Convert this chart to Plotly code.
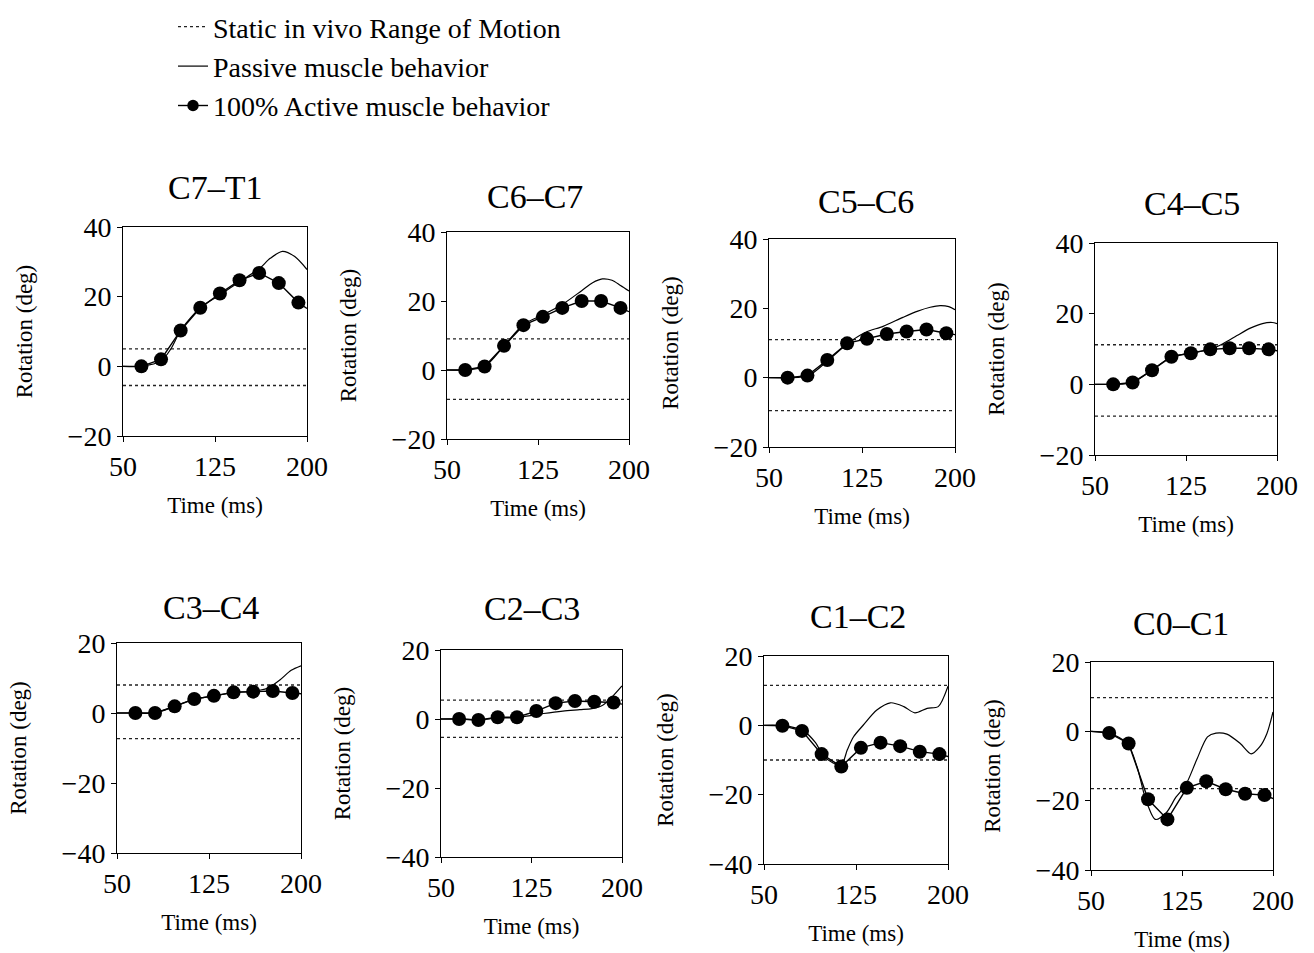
import plotly.graph_objects as go

# ---------------- data ----------------
segments = ["C7–T1", "C6–C7", "C5–C6", "C4–C5", "C3–C4", "C2–C3", "C1–C2", "C0–C1"]
time_range = [50, 200]
time_ticks = [50, 125, 200]
y_ticks_top = [-20, 0, 20, 40]
y_ticks_bottom = [-40, -20, 0, 20]

# 100% active muscle behavior (dots every ~16 ms), line starts at 0 at 50 ms
t_active = [65, 81, 97, 113, 129, 145, 161, 177, 193]
active = {
    "C7–T1": [0, 2, 10.3, 16.8, 20.9, 24.7, 26.8, 23.9, 18.3],
    "C6–C7": [0, 1.0, 7, 13, 15.4, 18, 20, 20, 18],
    "C5–C6": [0, 0.6, 5.1, 9.9, 11.2, 12.6, 13.3, 13.9, 12.8],
    "C4–C5": [0, 0.5, 4, 7.8, 8.8, 9.9, 10.2, 10.2, 9.9],
    "C3–C4": [0, 0, 1.9, 4, 4.9, 5.9, 6.1, 6.3, 5.7],
    "C2–C3": [0, -0.3, 0.5, 0.5, 2.3, 4.6, 5.2, 5.0, 4.8],
    "C1–C2": [-0.1, -1.6, -8.3, -11.9, -6.5, -5, -6, -7.6, -8.3],
    "C0–C1": [-0.5, -3.5, -19.6, -25.4, -16.3, -14.4, -16.7, -18, -18.4],
}
active_end = {"C7–T1": 16.6, "C6–C7": 16.9, "C5–C6": 12.4, "C4–C5": 9.5,
              "C3–C4": 5.5, "C2–C3": 4.3, "C1–C2": -9.0, "C0–C1": -19.4}

# Passive muscle behavior
passive_t = {
    "C7–T1": [50, 65, 81, 89, 97, 113, 129, 145, 161, 170, 180, 190, 200],
    "C6–C7": [50, 65, 81, 97, 113, 129, 145, 161, 170, 178, 186, 193, 200],
    "C5–C6": [50, 66, 82, 98, 114, 128, 142, 158, 170, 180, 188, 195, 200],
    "C4–C5": [50, 65, 81, 97, 113, 129, 146, 156, 167, 178, 188, 196, 200],
    "C3–C4": [50, 65, 81, 97, 113, 129, 145, 158, 166, 173, 183, 192, 200],
    "C2–C3": [50, 66, 82, 98, 113, 124, 135, 151, 165, 175, 184, 192, 200],
    "C1–C2": [50, 66, 82, 92, 98, 106, 113, 118, 123, 131, 142, 153, 164, 173, 183, 192, 200],
    "C0–C1": [50, 65, 80, 88, 95, 103, 112, 120, 128, 137, 146, 153, 162, 173, 182, 189, 195, 200],
}
passive_v = {
    "C7–T1": [0, 0, 1.5, 5, 10.3, 16.8, 20.5, 24.3, 28, 31, 33, 31.5, 27.8],
    "C6–C7": [0, 0, 1.0, 7, 13.2, 16, 19, 23, 25.3, 26.4, 26, 24.5, 22.9],
    "C5–C6": [0, 0, 0.6, 5.1, 10, 13.1, 14.8, 17.4, 19.2, 20.3, 20.8, 20.5, 19.6],
    "C4–C5": [0, 0, 0.5, 4, 7.8, 8.8, 10, 11.6, 13.8, 15.9, 17.2, 17.5, 17.2],
    "C3–C4": [0, 0, 0, 1.9, 4, 4.9, 5.9, 6.1, 6.5, 7.1, 9.5, 12.2, 13.5],
    "C2–C3": [0, 0, -0.2, 0.3, 0.4, 1.0, 1.6, 2.3, 2.7, 3.0, 4.0, 6.5, 9.6],
    "C1–C2": [0, -0.1, -1.6, -5, -8.6, -10.8, -11.5, -7, -3.3, 0.1, 4.4, 6.5, 5.4, 3.6, 4.9, 5.4, 11.3],
    "C0–C1": [0, -0.5, -3.5, -10.3, -19.5, -25.4, -23.5, -19, -15.5, -8.3, -1.6, -0.5, -0.8, -3.5, -6.5, -4.5, -0.6, 5.6],
}

# Static in vivo range of motion (upper, lower)
rom_upper = {"C7–T1": 5, "C6–C7": 9, "C5–C6": 11, "C4–C5": 11.2,
             "C3–C4": 8, "C2–C3": 5.5, "C1–C2": 11.5, "C0–C1": 9.7}
rom_lower = {"C7–T1": -5.5, "C6–C7": -8.5, "C5–C6": -9.5, "C4–C5": -9,
             "C3–C4": -7.3, "C2–C3": -5.3, "C1–C2": -10, "C0–C1": -16.5}

legend_names = ["Static in vivo Range of Motion", "Passive muscle behavior",
                "100% Active muscle behavior"]

# ---------------- layout (pixel frames) ----------------
W, H = 1314, 953
frames = [(123, 307, 227, 436), (447, 629, 232, 439), (769, 955, 239, 447), (1095, 1277, 243, 455),
          (117, 301, 643, 853), (441, 622, 650, 857), (764, 948, 656, 864), (1091, 1273, 662, 870)]
title_pos = [(215, 187), (535, 196), (866, 201), (1192, 204),
             (211, 607), (532, 608), (858, 616), (1181, 623)]

FONT = "Liberation Serif, Times New Roman, serif"
fig = go.Figure()
annotations = []

for i, seg in enumerate(segments):
    k = "" if i == 0 else str(i + 1)
    xa, ya = "x" + k, "y" + k
    first = (i == 0)
    # static ROM dotted
    fig.add_trace(go.Scatter(
        x=[time_range[0], time_range[1], None, time_range[0], time_range[1]],
        y=[rom_upper[seg], rom_upper[seg], None, rom_lower[seg], rom_lower[seg]],
        mode="lines", line=dict(color="#222", width=1.3, dash="dot"),
        name=legend_names[0], legendgroup="rom", showlegend=first,
        xaxis=xa, yaxis=ya, hoverinfo="skip"))
    # passive
    fig.add_trace(go.Scatter(
        x=passive_t[seg], y=passive_v[seg], mode="lines",
        line=dict(color="black", width=1.2, shape="spline", smoothing=0.8),
        name=legend_names[1], legendgroup="passive", showlegend=first,
        xaxis=xa, yaxis=ya))
    # active
    xs = [time_range[0]] + t_active + [time_range[1]]
    ys = [0] + active[seg] + [active_end[seg]]
    sizes = [0] + [14] * len(t_active) + [0]
    fig.add_trace(go.Scatter(
        x=xs, y=ys, mode="lines+markers",
        line=dict(color="black", width=1.4),
        marker=dict(color="black", size=sizes, opacity=1, line=dict(width=0)),
        name=legend_names[2], legendgroup="active", showlegend=first,
        xaxis=xa, yaxis=ya))

    l, r, t, b = frames[i]
    top_row = i < 4
    axis_common = dict(showline=True, mirror=True, linecolor="black", linewidth=1,
                       showgrid=False, zeroline=False, ticks="outside", ticklen=5,
                       tickcolor="black", automargin=False,
                       tickfont=dict(family=FONT, size=28, color="black"))
    fig.layout["xaxis" + k] = dict(
        domain=[l / W, r / W], anchor=ya, range=time_range, tickvals=time_ticks,
        title=dict(text="Time (ms)", font=dict(family=FONT, size=23, color="black"), standoff=16),
        **axis_common)
    fig.layout["yaxis" + k] = dict(
        domain=[1 - b / H, 1 - t / H], anchor=xa,
        range=[-20, 40] if top_row else [-40, 20],
        tickvals=y_ticks_top if top_row else y_ticks_bottom,
        title=dict(text="Rotation (deg)", font=dict(family=FONT, size=23, color="black"), standoff=28),
        **axis_common)
    tx, ty = title_pos[i]
    annotations.append(dict(text=seg, x=tx / W, y=1 - ty / H, xref="paper", yref="paper",
                            xanchor="center", yanchor="middle", showarrow=False,
                            font=dict(family=FONT, size=34, color="black")))

fig.update_layout(
    width=W, height=H, margin=dict(l=0, r=0, t=0, b=0, autoexpand=False),
    paper_bgcolor="white", plot_bgcolor="white",
    annotations=annotations,
    legend=dict(x=173 / W, y=1 - 2 / H, xanchor="left", yanchor="top",
                font=dict(family=FONT, size=28, color="black"),
                bgcolor="rgba(0,0,0,0)", tracegroupgap=0, traceorder="normal"),
    showlegend=True,
)

fig.write_html("out.html")
